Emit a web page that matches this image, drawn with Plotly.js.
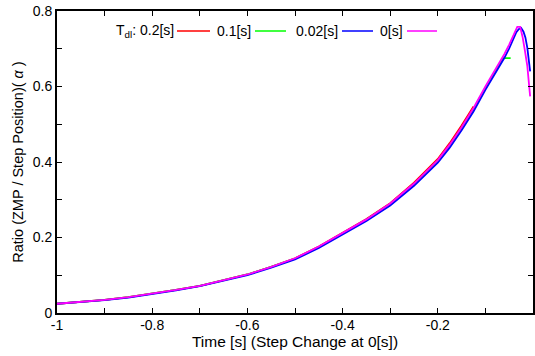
<!DOCTYPE html>
<html><head><meta charset="utf-8">
<script src="https://cdn.plot.ly/plotly-3.0.1.min.js"></script>
<style>html,body{margin:0;padding:0;background:#fff}#c{width:535px;height:356px}</style>
</head><body><div id="c"></div>
<script>
// Tdl = 0.2[s] (red)
const tRed = [-1, -0.95, -0.9, -0.85, -0.8, -0.75, -0.7, -0.65, -0.6, -0.55, -0.5, -0.45, -0.4, -0.35, -0.3, -0.25, -0.2, -0.175, -0.15, -0.125];
const vRed = [0.0245, 0.029, 0.035, 0.042, 0.051, 0.061, 0.072, 0.086, 0.102, 0.122, 0.145, 0.176, 0.212, 0.249, 0.291, 0.345, 0.408, 0.450, 0.497, 0.547];
// Tdl = 0.1[s] (green)
const tGreen = [-1, -0.95, -0.9, -0.85, -0.8, -0.75, -0.7, -0.65, -0.6, -0.55, -0.5, -0.45, -0.4, -0.35, -0.3, -0.25, -0.2, -0.175, -0.15, -0.125, -0.1, -0.085, -0.07, -0.063, -0.047];
const vGreen = [0.0245, 0.029, 0.035, 0.042, 0.051, 0.061, 0.072, 0.086, 0.102, 0.122, 0.144, 0.175, 0.211, 0.247, 0.289, 0.341, 0.403, 0.443, 0.489, 0.539, 0.596, 0.628, 0.660, 0.675, 0.675];
// Tdl = 0.02[s] (blue)
const tBlue = [-1, -0.95, -0.9, -0.85, -0.8, -0.75, -0.7, -0.65, -0.6, -0.55, -0.5, -0.45, -0.4, -0.35, -0.3, -0.25, -0.2, -0.175, -0.15, -0.125, -0.1, -0.085, -0.07, -0.06, -0.05, -0.04, -0.035, -0.03, -0.025, -0.02, -0.016, -0.012, -0.006];
const vBlue = [0.0245, 0.029, 0.034, 0.041, 0.050, 0.060, 0.071, 0.085, 0.100, 0.120, 0.142, 0.172, 0.208, 0.244, 0.285, 0.337, 0.398, 0.438, 0.484, 0.534, 0.591, 0.622, 0.654, 0.676, 0.701, 0.729, 0.744, 0.752, 0.755, 0.745, 0.730, 0.703, 0.640];
// Tdl = 0[s] (magenta)
const tMag = [-1, -0.95, -0.9, -0.85, -0.8, -0.75, -0.7, -0.65, -0.6, -0.55, -0.5, -0.45, -0.4, -0.35, -0.3, -0.25, -0.2, -0.175, -0.15, -0.125, -0.1, -0.085, -0.07, -0.06, -0.05, -0.04, -0.033, -0.027, -0.022, -0.017, -0.012, -0.006];
const vMag = [0.0245, 0.029, 0.035, 0.042, 0.051, 0.061, 0.072, 0.086, 0.102, 0.122, 0.145, 0.176, 0.212, 0.248, 0.290, 0.343, 0.405, 0.446, 0.492, 0.543, 0.600, 0.632, 0.664, 0.686, 0.711, 0.740, 0.758, 0.758, 0.732, 0.695, 0.655, 0.574];

const xTickVals = [-1, -0.9, -0.8, -0.7, -0.6, -0.5, -0.4, -0.3, -0.2, -0.1, 0];
const xTickText = ['-1', '', '-0.8', '', '-0.6', '', '-0.4', '', '-0.2', '', '0'];
const yTickVals = [0, 0.1, 0.2, 0.3, 0.4, 0.5, 0.6, 0.7, 0.8];
const yTickText = ['0', '', '0.2', '', '0.4', '', '0.6', '', '0.8'];
const keyLabels = ['T<sub>dl</sub>: 0.2[s]', '0.1[s]', '0.02[s]', '0[s]'];
const colors = ['#ff0000', '#00ff00', '#0000ff', '#ff00ff'];

const series = [[tRed, vRed], [tGreen, vGreen], [tBlue, vBlue], [tMag, vMag]];
const traces = series.map((s, i) => ({
  x: s[0], y: s[1], type: 'scatter', mode: 'lines',
  line: {color: colors[i], width: 1.8}, name: keyLabels[i], showlegend: false
}));

const W = 535, H = 356, ml = 57, mr = 2, mt = 11, mb = 43;
const pw = W - ml - mr, ph = H - mt - mb;
const px = x => (x - ml) / pw, py = y => 1 - (y - mt) / ph;
const keyPos = [[176, 177, 210], [253, 255, 286], [340, 342, 373], [405, 407, 437]];
const keyY = 31;
const fam = 'Liberation Sans, Arial, sans-serif';
const annotations = keyLabels.map((t, i) => ({
  text: t, xref: 'paper', yref: 'paper', x: px(keyPos[i][0]), y: py(keyY),
  xanchor: 'right', yanchor: 'middle', showarrow: false,
  font: {family: fam, size: 14, color: '#000'}
}));
const shapes = keyLabels.map((t, i) => ({
  type: 'line', xref: 'paper', yref: 'paper',
  x0: px(keyPos[i][1]), x1: px(keyPos[i][2]), y0: py(keyY), y1: py(keyY),
  line: {color: colors[i], width: 1.5}
}));

const tickFont = {family: fam, size: 14, color: '#000'};
const layout = {
  width: W, height: H,
  margin: {l: ml, r: mr, t: mt, b: mb, pad: 0},
  paper_bgcolor: '#fff', plot_bgcolor: '#fff',
  showlegend: false,
  xaxis: {
    range: [-1, 0], tickvals: xTickVals, ticktext: xTickText,
    ticks: 'inside', ticklen: 5, tickwidth: 1, tickcolor: '#000',
    showline: true, linecolor: '#000', linewidth: 2, mirror: 'ticks',
    showgrid: false, zeroline: false, tickfont: tickFont, ticklabelstandoff: -2,
    title: {text: 'Time [s] (Step Change at 0[s])', font: {family: fam, size: 15.5, color: '#000'}, standoff: 0}
  },
  yaxis: {
    range: [0, 0.8], tickvals: yTickVals, ticktext: yTickText,
    ticks: 'inside', ticklen: 5, tickwidth: 1, tickcolor: '#000',
    showline: true, linecolor: '#000', linewidth: 2, mirror: 'ticks',
    showgrid: false, zeroline: false, tickfont: tickFont,
    title: {text: 'Ratio (ZMP / Step Position)( <i>α</i> )', font: {family: fam, size: 14.5, color: '#000'}, standoff: 6}
  },
  annotations: annotations, shapes: shapes
};
Plotly.newPlot('c', traces, layout, {displayModeBar: false, staticPlot: true});
</script></body></html>
